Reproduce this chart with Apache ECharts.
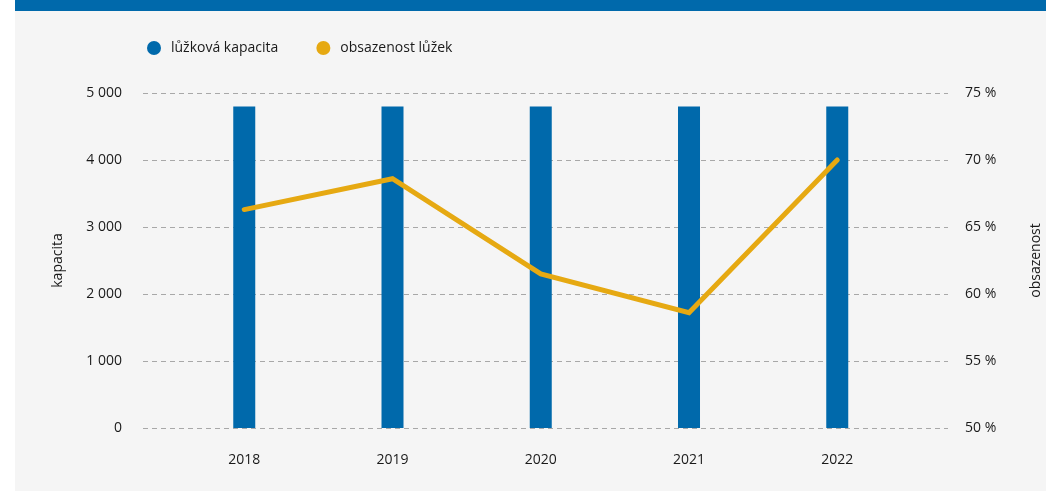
<!DOCTYPE html>
<html>
<head>
<meta charset="utf-8">
<script src="https://cdn.jsdelivr.net/npm/echarts@6/dist/echarts.min.js"></script>
<style>
  html, body { margin: 0; padding: 0; background: #ffffff; }
  #panel { position: absolute; left: 15px; top: 0; width: 1031px; height: 491px; background: #f5f5f5; }
  #band { position: absolute; left: 15px; top: 0; width: 1031px; height: 11px; background: #0069ab; }
  #chart { position: absolute; left: 0; top: 0; width: 1046px; height: 491px; }
</style>
</head>
<body>
<div id="panel"></div>
<div id="band"></div>
<div id="chart"></div>
<script>
const years = [2018, 2019, 2020, 2021, 2022];
const capacity = [4800, 4800, 4800, 4800, 4800];
const occupancy = [66.3, 68.6, 61.5, 58.6, 70.0];
const seriesNames = ['lůžková kapacita', 'obsazenost lůžek'];
const axisNames = ['kapacita', 'obsazenost'];

const BLUE = '#0069ab';
const GOLD = '#e6a912';
const FONT = '"Open Sans", sans-serif';
const TXT = '#1a1a1a';

const chart = echarts.init(document.getElementById('chart'), null, { renderer: 'canvas' });

function fmtThousands(v) {
  return String(v).replace(/\B(?=(\d{3})+(?!\d))/g, ' ');
}

chart.setOption({
  backgroundColor: 'transparent',
  animation: false,
  textStyle: { fontFamily: FONT },
  legend: {
    left: 142,
    top: 36,
    icon: 'circle',
    itemWidth: 14,
    itemHeight: 14,
    itemGap: 38,
    textStyle: { fontFamily: FONT, fontSize: 14, color: TXT, padding: [0, 0, 0, 5] },
    data: seriesNames
  },
  grid: { left: 143, right: 98, top: 93, bottom: 63, containLabel: false, outerBoundsMode: 'none' },
  xAxis: {
    type: 'value',
    min: 2017.317,
    max: 2022.747,
    axisLine: { show: false },
    axisTick: { show: false },
    splitLine: { show: false },
    axisLabel: {
      customValues: years,
      margin: 25,
      fontFamily: FONT,
      fontSize: 14,
      color: TXT,
      formatter: v => String(Math.round(v))
    }
  },
  yAxis: [
    {
      type: 'value',
      min: 0,
      max: 5000,
      interval: 1000,
      name: axisNames[0],
      nameLocation: 'middle',
      nameRotate: 90,
      nameGap: 78,
      nameTextStyle: { fontFamily: FONT, fontSize: 14, color: TXT },
      axisLine: { show: false },
      axisTick: { show: false },
      axisLabel: { margin: 21, fontFamily: FONT, fontSize: 14, color: TXT, formatter: fmtThousands },
      splitLine: { show: true, lineStyle: { color: '#a8a8a8', type: [5, 4], width: 1 } }
    },
    {
      type: 'value',
      min: 50,
      max: 75,
      interval: 5,
      name: axisNames[1],
      nameLocation: 'middle',
      nameRotate: 90,
      nameGap: 81,
      nameTextStyle: { fontFamily: FONT, fontSize: 14, color: TXT },
      axisLine: { show: false },
      axisTick: { show: false },
      axisLabel: { margin: 17, fontFamily: FONT, fontSize: 14, color: TXT, formatter: v => v + ' %' },
      splitLine: { show: false }
    }
  ],
  series: [
    {
      name: seriesNames[0],
      type: 'bar',
      yAxisIndex: 0,
      barWidth: 22,
      itemStyle: { color: BLUE },
      data: years.map((y, i) => [y, capacity[i]])
    },
    {
      name: seriesNames[1],
      type: 'line',
      yAxisIndex: 1,
      symbol: 'none',
      lineStyle: { color: GOLD, width: 5, cap: 'round', join: 'miter' },
      itemStyle: { color: GOLD },
      data: years.map((y, i) => [y, occupancy[i]])
    }
  ]
});
</script>
</body>
</html>
